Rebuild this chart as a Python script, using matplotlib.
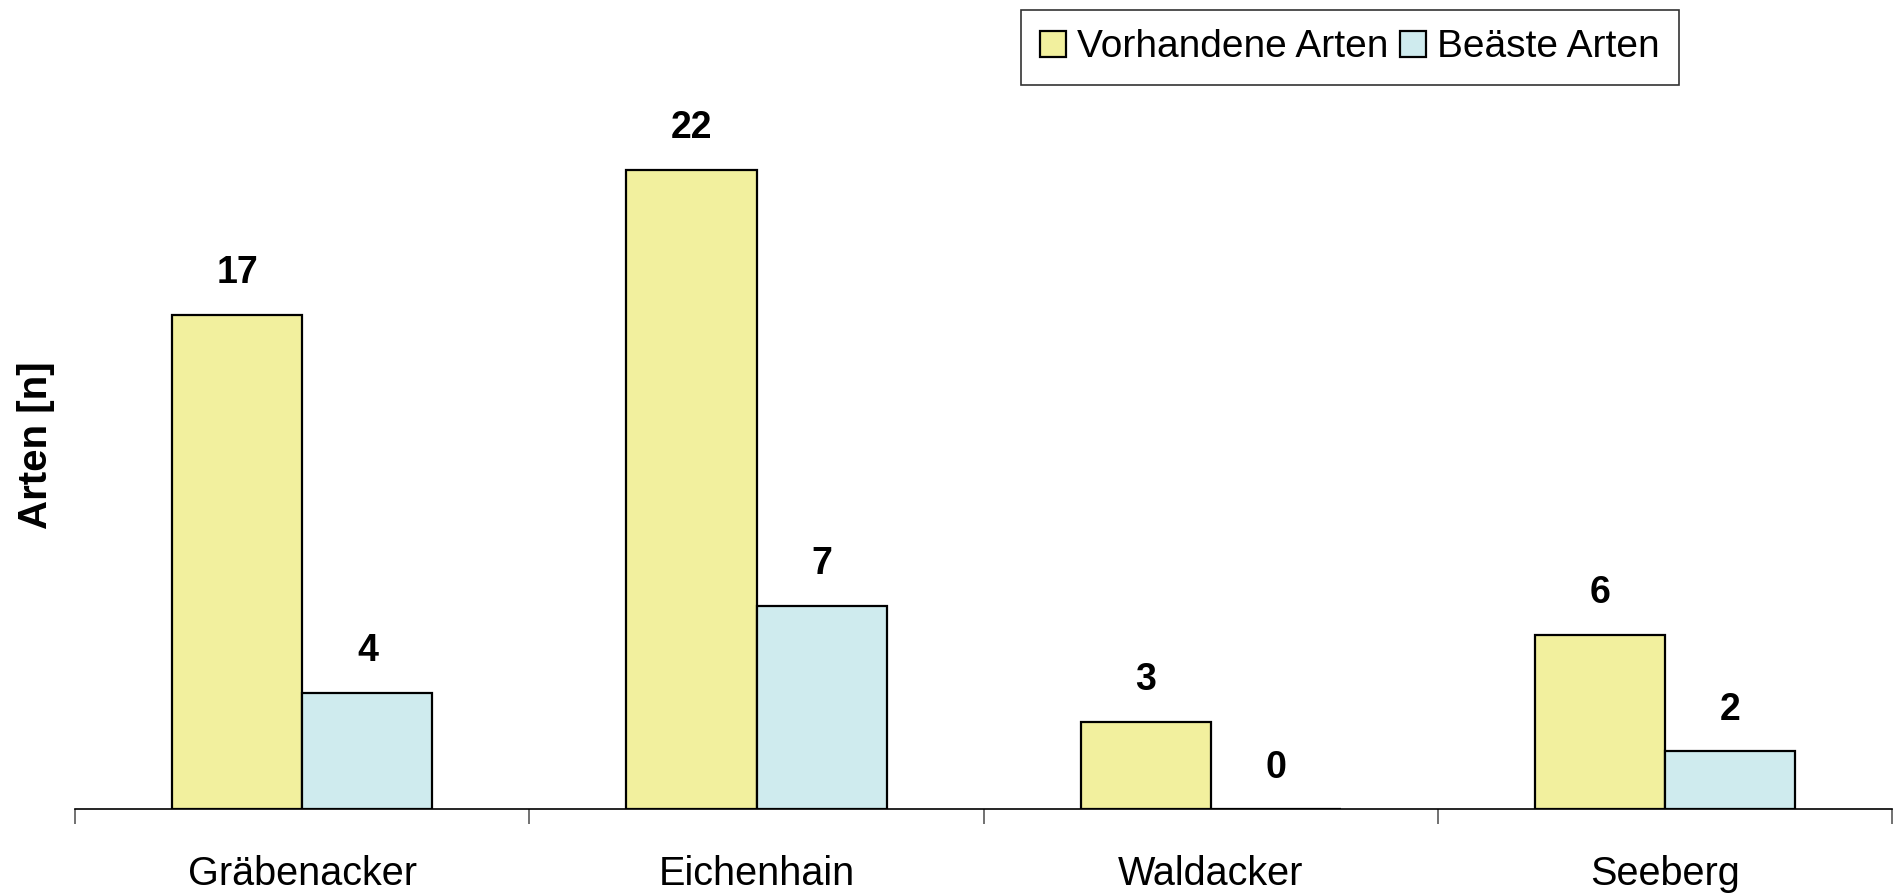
import matplotlib
matplotlib.use("Agg")
import matplotlib.pyplot as plt
import numpy as np

categories = ["Gräbenacker", "Eichenhain", "Waldacker", "Seeberg"]
vorhandene = [17, 22, 3, 6]
beaeste = [4, 7, 0, 2]
series_names = ["Vorhandene Arten", "Beäste Arten"]

plt.rcParams['font.family'] = ['Liberation Sans', 'DejaVu Sans']

W, H = 1894, 893
fig = plt.figure(figsize=(W / 100, H / 100), dpi=100)
x0_px, x1_px = 75.3, 1892.0
unit_px = 459.1
ax_left = x0_px / W
ax_bottom = (H - 809.3) / H
ax = fig.add_axes([ax_left, ax_bottom, (x1_px - x0_px) / W, 1 - ax_bottom])

x = np.arange(len(categories))
bw = 0.2864
c1 = "#F2F09E"
c2 = "#CFEBEE"
b1 = ax.bar(x - bw / 2, vorhandene, bw, color=c1, edgecolor="black", linewidth=1.6, label=series_names[0])
b2 = ax.bar(x + bw / 2, beaeste, bw, color=c2, edgecolor="black", linewidth=1.6, label=series_names[1])

for bars, vals in ((b1, vorhandene), (b2, beaeste)):
    for r, v in zip(bars, vals):
        ax.annotate(str(v), (r.get_x() + r.get_width() / 2, v), xytext=(0, 17),
                    textcoords="offset points", ha="center", va="bottom",
                    fontsize=27, fontweight="bold")

px_per_unit = 29.07
ax.set_ylim(0, 809.3 / px_per_unit)
ax.set_xlim(-0.5, -0.5 + (x1_px - x0_px) / unit_px)

for s in ("top", "right", "left"):
    ax.spines[s].set_visible(False)
ax.spines["bottom"].set_linewidth(1.2)
ax.set_yticks([])

ax.set_xticks(x)
ax.set_xticklabels(categories, fontsize=28.5)
ax.tick_params(axis="x", which="major", length=0, pad=33)
ax.set_xticks(np.arange(-0.5, len(categories), 1.0), minor=True)
ax.tick_params(axis="x", which="minor", length=10.5, width=1.3, color="#666666", direction="out")

fig.text(36 / W, 1 - 445 / H, "Arten [n]", rotation=90, fontsize=29, fontweight="bold",
         ha="center", va="center")

leg = ax.legend(loc="upper left", bbox_to_anchor=(1021 / W, 1 - 10 / H), bbox_transform=fig.transFigure,
                ncol=2, fontsize=28, frameon=True, fancybox=False, edgecolor="black",
                handlelength=0.65, handleheight=0.65, handletextpad=0.3, columnspacing=0.3,
                borderpad=0.5, borderaxespad=0)
leg.get_frame().set_linewidth(1.2)

fig.savefig("out.png", dpi=100)
